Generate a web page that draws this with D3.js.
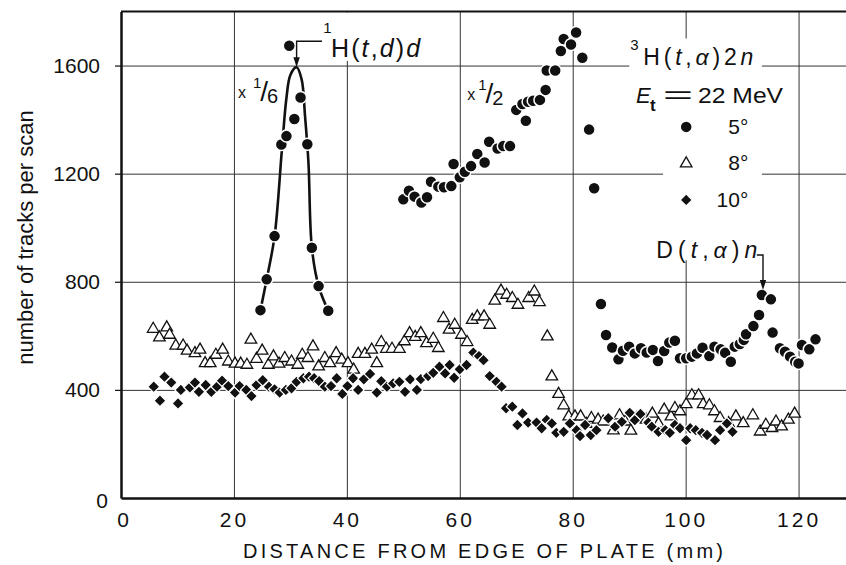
<!DOCTYPE html>
<html><head><meta charset="utf-8">
<script src="https://cdn.jsdelivr.net/npm/d3@7"></script>
<style>
html,body{margin:0;padding:0;background:#fff;}
svg{display:block;}
text{font-family:"Liberation Sans",Arial,sans-serif;fill:#111;}
</style></head><body>
<svg id="chart" width="846" height="565"></svg>
<script>
// ---------------- data ----------------
const xTicks = [0, 20, 40, 60, 80, 100, 120];
const yTicks = [0, 400, 800, 1200, 1600];
const legendLabels = ["5°", "8°", "10°"];

// 5 deg, 1H(t,d)d peak (plotted x 1/6)
const peakX = [24.7, 25.8, 27.2, 28.4, 29.3, 29.8, 30.7, 31.8, 33.0, 33.8, 35.0, 36.7];
const peakY = [695, 809, 969, 1308, 1339, 1673, 1402, 1482, 1309, 926, 784, 693];
// hand-drawn fit through the peak
const fitX = [24.7, 25.8, 27.2, 28.5, 29.3, 30.0, 31.1, 32.0, 32.6, 33.2, 33.8, 35.0, 36.7];
const fitY = [695, 809, 969, 1290, 1480, 1565, 1594, 1548, 1411, 1240, 926, 784, 693];

// 5 deg main series (x 1/2 part and tail)
const deg5X = [50.0, 51.0, 52.0, 53.2, 54.2, 54.9, 56.2, 57.2, 58.5, 58.9, 60.0, 60.9, 62.0, 63.1, 64.4, 65.2,
  66.7, 67.7, 68.9, 70.0, 71.1, 71.7, 72.1, 73.0, 74.2, 75.2, 75.4, 76.9, 77.9, 78.4, 79.7, 80.6, 81.7, 82.9,
  83.8, 85.0, 85.9, 87.0, 88.1, 88.9, 90.0, 91.0, 92.1, 93.1, 94.2, 95.1, 96.2, 97.1, 98.1, 99.0, 100.1, 101.1,
  102.0, 103.0, 104.2, 105.1, 106.2, 107.0, 108.0, 108.7, 109.6, 110.3, 110.7, 112.0, 113.0, 113.5, 115.1, 115.4,
  116.7, 117.6, 118.5, 119.4, 120.0, 120.6, 121.9, 123.0];
const deg5Y = [1105, 1137, 1115, 1093, 1113, 1170, 1152, 1150, 1154, 1236, 1187, 1207, 1228, 1273, 1241, 1318,
  1293, 1302, 1302, 1436, 1458, 1396, 1466, 1470, 1473, 1510, 1582, 1582, 1654, 1698, 1678, 1722, 1629, 1363,
  1146, 718, 603, 557, 513, 545, 560, 535, 554, 538, 548, 507, 544, 575, 582, 517, 517, 523,
  535, 556, 525, 560, 550, 537, 504, 560, 570, 585, 606, 636, 677, 751, 735, 612,
  554, 541, 523, 504, 498, 566, 550, 587];

// 8 deg
const deg8X = [5.7, 6.8, 8.1, 8.6, 9.7, 11.0, 11.7, 13.1, 14.0, 14.9, 15.8, 16.8, 18.0, 19.0, 20.2, 21.2, 22.3, 23.0,
  24.0, 25.0, 26.1, 27.0, 28.0, 29.0, 30.2, 31.3, 32.1, 33.1, 34.0, 35.0, 36.1, 37.0, 38.1, 39.1, 40.2, 41.2, 42.0,
  43.2, 44.4, 45.3, 46.1, 47.0, 48.0, 49.3, 50.2, 51.1, 52.1, 53.1, 54.1, 55.3, 56.2, 57.1, 58.1, 59.1, 60.3, 61.3,
  62.2, 63.1, 64.3, 65.3, 66.2, 67.3, 68.3, 69.3, 70.3, 72.2, 73.2, 74.1, 75.5, 76.3, 77.5, 78.4, 79.3, 80.4, 81.4,
  82.4, 83.3, 84.5, 85.4, 87.2, 88.3, 89.3, 90.3, 91.3, 93.0, 94.1, 95.2, 96.2, 97.4, 98.1, 99.0, 100.1, 101.1,
  102.3, 103.1, 104.2, 105.1, 106.1, 107.6, 108.9, 110.2, 111.9, 113.2, 114.2, 115.3, 116.0, 117.0, 118.2, 119.3];
const deg8Y = [631, 599, 636, 609, 569, 569, 550, 541, 554, 504, 504, 535, 554, 510, 502, 502, 498, 591,
  520, 550, 498, 529, 502, 523, 510, 498, 535, 523, 566, 492, 523, 504, 541, 517, 504, 480, 538,
  538, 554, 504, 582, 557, 557, 557, 585, 615, 601, 615, 578, 594, 560, 671, 628, 646, 609, 582,
  664, 677, 677, 646, 735, 772, 757, 745, 720, 745, 769, 730, 603, 455, 390, 348, 307, 307, 307,
  279, 301, 295, 288, 255, 311, 288, 254, 301, 295, 317, 280, 332, 307, 338, 326, 352, 385,
  385, 352, 348, 326, 301, 282, 307, 282, 311, 251, 276, 264, 288, 270, 295, 317];

// 10 deg
const deg10X = [5.8, 6.9, 7.7, 8.9, 10.1, 10.6, 12.2, 13.1, 13.8, 15.0, 16.0, 17.0, 17.9, 19.0, 20.2, 21.0, 22.2,
  23.1, 24.0, 25.1, 26.2, 27.2, 28.1, 29.2, 30.2, 31.1, 32.3, 33.3, 34.2, 35.1, 36.1, 37.2, 38.2, 39.2, 40.1, 41.1,
  42.0, 43.0, 44.1, 45.3, 46.1, 47.1, 48.2, 49.3, 50.3, 51.2, 52.4, 53.1, 54.4, 55.3, 56.4, 57.4, 58.2, 59.0, 60.0,
  61.2, 62.4, 63.4, 64.2, 65.3, 66.5, 67.4, 68.2, 69.3, 70.2, 71.1, 72.1, 73.6, 74.5, 75.4, 76.3, 77.1, 78.4, 79.5,
  80.7, 81.3, 82.2, 83.2, 84.2, 86.3, 87.5, 88.7, 90.1, 91.0, 92.0, 93.4, 94.0, 95.2, 96.4, 97.2, 98.1, 99.0, 100.1,
  100.8, 101.8, 102.9, 103.8, 105.2, 106.1, 107.3, 108.3];
const deg10Y = [412, 360, 449, 427, 350, 400, 409, 427, 393, 418, 393, 412, 434, 414, 390, 414, 400,
  377, 418, 436, 412, 402, 390, 400, 406, 430, 443, 449, 443, 432, 412, 414, 443, 385, 414, 443,
  400, 439, 459, 390, 432, 412, 424, 430, 393, 439, 400, 440, 451, 463, 486, 461, 492, 445, 476,
  492, 538, 525, 510, 451, 430, 412, 332, 338, 270, 313, 279, 279, 258, 289, 276, 241, 245, 276,
  251, 229, 270, 233, 251, 295, 264, 282, 315, 288, 311, 279, 264, 245, 251, 241, 270, 258, 214,
  258, 251, 241, 233, 214, 251, 276, 245];

// ---------------- chart ----------------
const ink = "#111";
const svg = d3.select("#chart");
const x = d3.scaleLinear().domain([0, 128.4]).range([121, 846]);
const y = d3.scaleLinear().domain([0, 1800]).range([498, 11.5]);

const gGrid = svg.append("g");
const gMask = svg.append("g");
const gCurve = svg.append("g");
const gMarks = svg.append("g");
const gAxes = svg.append("g");
const gText = svg.append("g");

// grid lines
gGrid.append("g").attr("transform", `translate(0,${y(0)})`)
  .call(d3.axisBottom(x).tickValues(xTicks.filter(d => d > 0)).tickSize(-(y(0) - y(1800))).tickFormat(""))
  .call(g => g.select(".domain").remove())
  .selectAll("line").attr("stroke", "#333").attr("stroke-width", 1);
gGrid.append("g").attr("transform", `translate(${x(0)},0)`)
  .call(d3.axisLeft(y).tickValues(yTicks.filter(d => d > 0)).tickSize(-(x(128.4) - x(0))).tickFormat(""))
  .call(g => g.select(".domain").remove())
  .selectAll("line").attr("stroke", "#333").attr("stroke-width", 1);

// top border
gAxes.append("line").attr("x1", x(0)).attr("x2", x(128.4)).attr("y1", y(1800)).attr("y2", y(1800))
  .attr("stroke", ink).attr("stroke-width", 2);

// axes
const yAx = gAxes.append("g").attr("transform", `translate(${x(0)},0)`)
  .call(d3.axisLeft(y).tickValues(yTicks).tickFormat(d3.format("d")).tickSize(6).tickPadding(15).tickSizeOuter(0));
yAx.select(".domain").attr("stroke", ink).attr("stroke-width", 2.5);
yAx.selectAll("line").attr("stroke", ink).attr("stroke-width", 1.2);
yAx.selectAll("text").attr("font-size", 21).attr("font-family", "Liberation Sans, Arial, sans-serif").attr("fill", ink);
yAx.selectAll(".tick").filter(d => d === 0).select("text").attr("x", -13).attr("dy", "0.45em");
yAx.selectAll(".tick").filter(d => d === 0).select("line").remove();

const xAx = gAxes.append("g").attr("transform", `translate(0,${y(0)})`)
  .call(d3.axisBottom(x).tickValues(xTicks).tickFormat(d3.format("d")).tickSize(0).tickPadding(14).tickSizeOuter(0));
xAx.select(".domain").attr("stroke", ink).attr("stroke-width", 2.5);
xAx.selectAll("text").attr("font-size", 21).attr("letter-spacing", "3px")
  .attr("font-family", "Liberation Sans, Arial, sans-serif").attr("fill", ink);
xAx.selectAll(".tick").filter(d => d === 0).select("text").attr("dx", 3);

// fit curve through the peak
const fitPts = fitX.map((d, i) => [d, fitY[i]]);
gCurve.append("path")
  .attr("d", d3.line().x(d => x(d[0])).y(d => y(d[1])).curve(d3.curveCatmullRom.alpha(0.5))(fitPts))
  .attr("fill", "none").attr("stroke", ink).attr("stroke-width", 2.6);

// markers
const zip = (xs, ys) => xs.map((d, i) => ({ x: d, y: ys[i] }));
const triPath = d3.symbol(d3.symbolTriangle, 58)();
const diaPath = d3.symbol(d3.symbolSquare, 72)();

gMarks.append("g").selectAll("path").data(zip(deg8X, deg8Y)).join("path")
  .attr("d", triPath).attr("transform", d => `translate(${x(d.x)},${y(d.y) + 1.5})`)
  .attr("fill", "#fff").attr("stroke", ink).attr("stroke-width", 1.3);
gMarks.append("g").selectAll("path").data(zip(deg10X, deg10Y)).join("path")
  .attr("d", diaPath).attr("transform", d => `translate(${x(d.x)},${y(d.y)}) rotate(45)`)
  .attr("fill", ink).attr("stroke", "#fff").attr("stroke-width", 1.2);
gMarks.append("g").selectAll("circle").data(zip(peakX, peakY).concat(zip(deg5X, deg5Y))).join("circle")
  .attr("cx", d => x(d.x)).attr("cy", d => y(d.y)).attr("r", 6)
  .attr("fill", ink).attr("stroke", "#fff").attr("stroke-width", 1.5);

// ---------------- annotations ----------------
function txt(mx, my, str, size, opts = {}) {
  const t = gText.append("text").attr("x", x(mx)).attr("y", y(my)).attr("font-size", size).text(str);
  if (opts.italic) t.attr("font-style", "italic");
  if (opts.bold) t.attr("font-weight", "bold");
  if (opts.anchor) t.attr("text-anchor", opts.anchor);
  if (opts.len) t.attr("textLength", opts.len).attr("lengthAdjust", "spacingAndGlyphs");
  return t;
}
function rich(mx, my, parts, size, len) {
  const t = gText.append("text").attr("x", x(mx)).attr("y", y(my)).attr("font-size", size);
  parts.forEach(p => {
    const s = t.append("tspan").text(p[0]);
    if (p[1]) s.attr("font-style", "italic");
  });
  if (len) t.attr("textLength", len).attr("lengthAdjust", "spacing");
  return t;
}
// scale factor label "x 1/n" as one text element
function factor(mx, my, den, gap) {
  const t = gText.append("text").attr("x", x(mx)).attr("y", y(my));
  t.append("tspan").attr("font-size", 16).text("x");
  t.append("tspan").attr("font-size", 15).attr("dx", gap).attr("dy", -10).text("1");
  t.append("tspan").attr("font-size", 28).attr("dx", -1).attr("dy", 13).text("/");
  t.append("tspan").attr("font-size", 20).attr("dx", -1).attr("dy", 2).text(den);
}

// 1H(t,d)d
txt(35.8, 1720, "1", 15);
const lblH1 = rich(37.2, 1632, [["H("], ["t", 1], [","], ["d", 1], [")"], ["d", 1]], 25, 89);
const ax1 = x(31.1);
gText.append("path").attr("d", `M${x(35.6)},${y(1690)}H${ax1}V${y(1594) - 8}`)
  .attr("fill", "none").attr("stroke", ink).attr("stroke-width", 1.4);
gText.append("path").attr("d", `M${ax1 - 3.2},${y(1594) - 10}L${ax1 + 3.2},${y(1594) - 10}L${ax1},${y(1594)}Z`)
  .attr("fill", ink);

// x 1/6 and x 1/2
factor(20.7, 1480, "6", 7);
factor(61.3, 1473, "2", 3);

// 3H(t,alpha)2n
txt(90.2, 1658, "3", 15);
const lbl3 = rich(92.5, 1602, [["H("], ["t", 1], [","], ["α", 1], [")2"], ["n", 1]], 23, 110);

// E_t = 22 MeV
txt(91.2, 1462, "E", 22, { italic: true });
txt(93.7, 1432, "t", 17, { bold: true });
txt(96.0, 1462, "=", 24, { len: 30 });
txt(102.2, 1462, "22 MeV", 22, { len: 85 });

// legend
const legY = [1373, 1243, 1103];
gText.append("circle").attr("cx", x(100.1)).attr("cy", y(legY[0])).attr("r", 6)
  .attr("fill", ink).attr("stroke", "#fff").attr("stroke-width", 1.5);
gText.append("path").attr("d", triPath).attr("transform", `translate(${x(100.1)},${y(legY[1]) + 1.5})`)
  .attr("fill", "#fff").attr("stroke", ink).attr("stroke-width", 1.3);
gText.append("path").attr("d", diaPath).attr("transform", `translate(${x(100.1)},${y(legY[2])}) rotate(45)`)
  .attr("fill", ink).attr("stroke", "#fff").attr("stroke-width", 1.2);
legendLabels.forEach((l, i) => {
  gText.append("text").attr("x", x(111.1)).attr("y", y(legY[i]) + 7.5).attr("font-size", 21)
    .attr("text-anchor", "end").text(l);
});

// D(t,alpha)n
rich(94.8, 888, [["D("], ["t", 1], [","], ["α", 1], [")"], ["n", 1]], 23, 101);
const ax2 = x(113.7);
gText.append("path").attr("d", `M${x(112.6)},${y(899)}H${ax2}V${y(770) - 8}`)
  .attr("fill", "none").attr("stroke", ink).attr("stroke-width", 1.4);
gText.append("path").attr("d", `M${ax2 - 3.2},${y(770) - 10}L${ax2 + 3.2},${y(770) - 10}L${ax2},${y(770)}Z`)
  .attr("fill", ink);

// axis titles
gText.append("text").attr("x", 483).attr("y", 558).attr("font-size", 20).attr("text-anchor", "middle")
  .attr("textLength", 480).attr("lengthAdjust", "spacing").text("DISTANCE FROM EDGE OF PLATE (mm)");
gText.append("text").attr("transform", "translate(33,237.5) rotate(-90)").attr("font-size", 22)
  .attr("text-anchor", "middle").text("number of tracks per scan");

// white gaps in the grid behind labels
const b1 = lblH1.node().getBBox();
gMask.append("rect").attr("x", b1.x - 10).attr("y", y(1800) + 1).attr("width", b1.width + 14)
  .attr("height", b1.y + b1.height - 2 - y(1800)).attr("fill", "#fff");
const b3 = lbl3.node().getBBox();
gMask.append("rect").attr("x", b3.x - 14).attr("y", b3.y - 2).attr("width", b3.width + 20)
  .attr("height", b3.height + 4).attr("fill", "#fff");
gMask.append("rect").attr("x", x(96.0)).attr("y", y(1700)).attr("width", x(113.5) - x(96.0))
  .attr("height", y(880) - y(1700)).attr("fill", "#fff");
</script>
</body></html>
